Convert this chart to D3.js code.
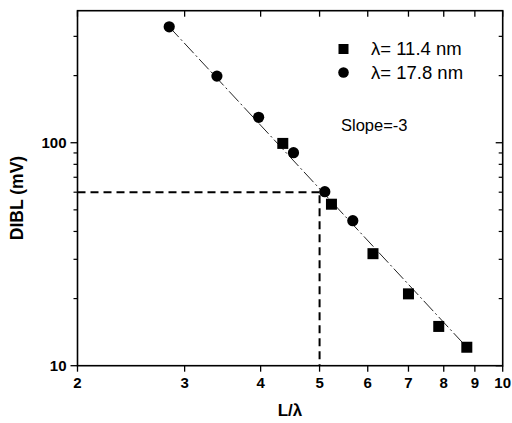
<!DOCTYPE html>
<html><head><meta charset="utf-8">
<script src="https://cdn.jsdelivr.net/npm/d3@7"></script>
<style>body{margin:0;background:#fff}svg{display:block}text{font-family:"Liberation Sans",Arial,sans-serif;fill:#000}</style>
</head><body><svg id="c" width="512" height="423"></svg>
<script>
// data
const squareX = [4.35, 5.23, 6.12, 7.00, 7.85, 8.73];
const squareY = [99.3, 53, 31.8, 21.0, 15.0, 12.1];
const circleX = [2.83, 3.39, 3.97, 4.53, 5.10, 5.67];
const circleY = [331, 199, 130, 90.2, 60.3, 44.7];
const fitX = [2.83, 8.73];
const fitY = [331, 12.1];
const refX = 5, refY = 60;
const xTicks = [2, 3, 4, 5, 6, 7, 8, 9, 10];
const yMajor = [10, 100];
const yMinor = [20, 30, 40, 50, 60, 70, 80, 90, 200, 300];
const legendLabels = ["\u03bb= 11.4 nm", "\u03bb= 17.8 nm"];

const svg = d3.select("#c");
const L = 77.5, R = 502.7, T = 10.7, B = 365.7;
const x = d3.scaleLog().domain([2, 10]).range([L, R]);
const y = d3.scaleLog().domain([10, 391]).range([B, T]);

const g = svg.append("g");
// reference dashed lines
g.append("path").attr("d", d3.line()([[x(2), y(refY)], [x(refX) + 2, y(refY)]]))
  .attr("stroke", "#000").attr("stroke-width", 2).attr("stroke-dasharray", "8,5").attr("fill", "none");
g.append("path").attr("d", d3.line()([[x(refX), y(refY) + 3], [x(refX), y(10)]]))
  .attr("stroke", "#000").attr("stroke-width", 2).attr("stroke-dasharray", "8,5").attr("fill", "none");
// fit line
g.append("path").attr("d", d3.line().x(d => x(d[0])).y(d => y(d[1]))(fitX.map((v, i) => [v, fitY[i]])))
  .attr("stroke", "#222").attr("stroke-width", 1).attr("stroke-dasharray", "14,3,2,3").attr("fill", "none");

// axes frame
const ax = svg.append("g").attr("stroke", "#000").attr("fill", "none");
ax.append("rect").attr("x", L).attr("y", T).attr("width", R - L).attr("height", B - T).attr("stroke-width", 1.6);
xTicks.forEach(t => {
  ax.append("line").attr("x1", x(t)).attr("x2", x(t)).attr("y1", B).attr("y2", B + 6).attr("stroke-width", 1.3);
  ax.append("line").attr("x1", x(t)).attr("x2", x(t)).attr("y1", T).attr("y2", T + 6).attr("stroke-width", 1.3);
});
yMajor.forEach(t => {
  ax.append("line").attr("x1", L - 7).attr("x2", L).attr("y1", y(t)).attr("y2", y(t)).attr("stroke-width", 1.3);
  ax.append("line").attr("x1", R - 7).attr("x2", R).attr("y1", y(t)).attr("y2", y(t)).attr("stroke-width", 1.3);
});
yMinor.forEach(t => {
  ax.append("line").attr("x1", L - 4).attr("x2", L).attr("y1", y(t)).attr("y2", y(t)).attr("stroke-width", 1.2);
  ax.append("line").attr("x1", R - 4).attr("x2", R).attr("y1", y(t)).attr("y2", y(t)).attr("stroke-width", 1.2);
});
// tick labels
svg.append("g").selectAll("text").data(xTicks).join("text")
  .attr("x", d => x(d)).attr("y", 388).attr("text-anchor", "middle")
  .attr("font-size", 15).attr("font-weight", "bold").text(d => d);
svg.append("g").selectAll("text").data(yMajor).join("text")
  .attr("x", L - 11).attr("y", d => y(d) + 5).attr("text-anchor", "end")
  .attr("font-size", 15).attr("font-weight", "bold").text(d => d);

// axis titles
svg.append("text").attr("x", 290).attr("y", 416).attr("text-anchor", "middle")
  .attr("font-size", 17).attr("font-weight", "bold").text("L/\u03bb");
svg.append("text").attr("transform", "translate(23,198) rotate(-90)").attr("text-anchor", "middle")
  .attr("font-size", 17.5).attr("font-weight", "bold").text("DIBL (mV)");

// markers
svg.append("g").selectAll("rect").data(squareX.map((v, i) => [v, squareY[i]])).join("rect")
  .attr("x", d => x(d[0]) - 5.5).attr("y", d => y(d[1]) - 5.5).attr("width", 11).attr("height", 11).attr("fill", "#000");
svg.append("g").selectAll("circle").data(circleX.map((v, i) => [v, circleY[i]])).join("circle")
  .attr("cx", d => x(d[0])).attr("cy", d => y(d[1])).attr("r", 5.6).attr("fill", "#000");

// legend
svg.append("rect").attr("x", 338.5).attr("y", 44).attr("width", 10).attr("height", 10).attr("fill", "#000");
svg.append("circle").attr("cx", 343.5).attr("cy", 72.5).attr("r", 5.3).attr("fill", "#000");
svg.append("text").attr("x", 371).attr("y", 55).attr("font-size", 18.5).text(legendLabels[0]);
svg.append("text").attr("x", 371).attr("y", 79).attr("font-size", 18.5).text(legendLabels[1]);
svg.append("text").attr("x", 341).attr("y", 131).attr("font-size", 16.5).text("Slope=-3");
</script></body></html>
